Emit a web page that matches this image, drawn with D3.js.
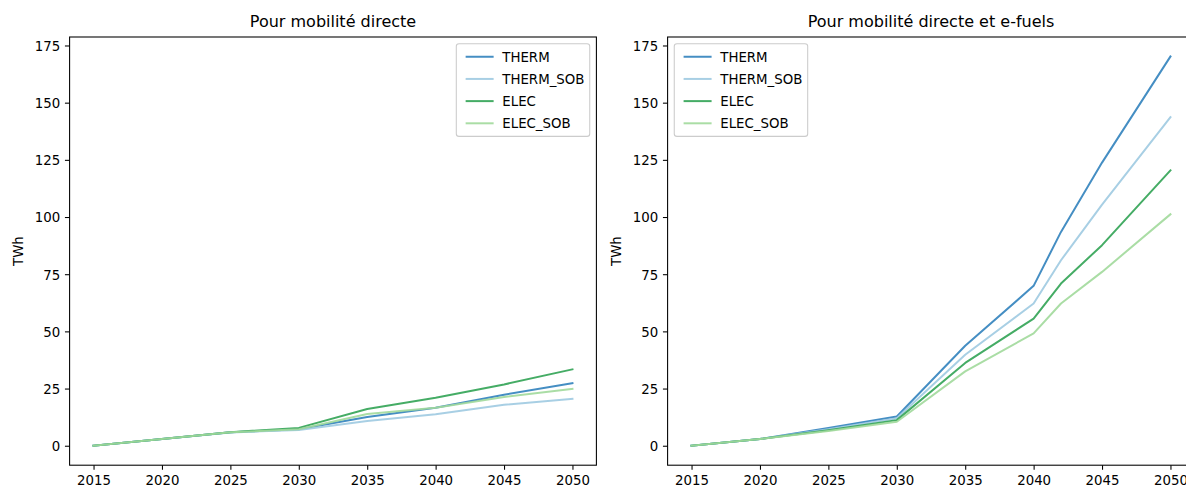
<!DOCTYPE html>
<html>
<head>
<meta charset="utf-8">
<script src="https://cdn.jsdelivr.net/npm/d3@7"></script>
<style>
  html, body { margin: 0; padding: 0; background: #fff; }
  svg { display: block; font-family: "DejaVu Sans", sans-serif; }
</style>
</head>
<body>
<svg id="chart" width="1186" height="487"></svg>
<script>
// ---------- data ----------
const seriesNames = ["THERM", "THERM_SOB", "ELEC", "ELEC_SOB"];
const seriesColors = ["#3182bd", "#9ecae1", "#31a354", "#a1d99b"];

const titleLeft = "Pour mobilité directe";
const titleRight = "Pour mobilité directe et e-fuels";
const yLabel = "TWh";

const xTicks = [2015, 2020, 2025, 2030, 2035, 2040, 2045, 2050];
const yTicks = [0, 25, 50, 75, 100, 125, 150, 175];

// Left panel: direct mobility
const yearsLeft = [2015, 2020, 2025, 2030, 2035, 2040, 2045, 2050];
const leftTHERM     = [0, 2.9, 5.9, 7.2, 12.6, 16.6, 22.3, 27.4];
const leftTHERM_SOB = [0, 2.9, 5.8, 6.9, 10.8, 13.8, 17.9, 20.5];
const leftELEC      = [0, 2.9, 5.9, 7.8, 16.1, 21.0, 26.8, 33.4];
const leftELEC_SOB  = [0, 2.9, 5.9, 7.2, 13.9, 16.6, 21.3, 24.9];

// Right panel: direct mobility + e-fuels
const yearsRight = [2015, 2020, 2025, 2030, 2035, 2040, 2042, 2045, 2050];
const rightTHERM     = [0, 2.9, 7.8, 12.8, 43.7, 69.9, 93.5, 123.8, 170.2];
const rightTHERM_SOB = [0, 2.9, 7.2, 12.0, 39.8, 62.2, 81.1, 105.4, 143.7];
const rightELEC      = [0, 2.9, 6.8, 11.2, 36.2, 55.6, 70.9, 87.7, 120.4];
const rightELEC_SOB  = [0, 2.9, 6.4, 10.5, 32.5, 49.1, 62.2, 76.0, 101.2];

// ---------- layout ----------
const FS = 13.33;        // 10pt at 96 dpi
const TITLE_FS = 16;
const LW = 2;
const SPINE = 1.07;
const TICKLEN = 4.67, TICKPAD = 4.67;

const svg = d3.select("#chart");

// shared y domain with matplotlib 5% margins
const allVals = [].concat(leftTHERM, leftTHERM_SOB, leftELEC, leftELEC_SOB,
                          rightTHERM, rightTHERM_SOB, rightELEC, rightELEC_SOB);
const yMin = d3.min(allVals), yMax = d3.max(allVals);
const yPad = (yMax - yMin) * 0.05;

const panels = [
  { x0: 69.6, x1: 596.4, title: titleLeft, years: yearsLeft,
    series: [leftTHERM, leftTHERM_SOB, leftELEC, leftELEC_SOB], legend: "right" },
  { x0: 667.6, x1: 1194.4, title: titleRight, years: yearsRight,
    series: [rightTHERM, rightTHERM_SOB, rightELEC, rightELEC_SOB], legend: "left" }
];
const plotTop = 37, plotBottom = 465.2;

panels.forEach(p => {
  const g = svg.append("g");
  const xMin = d3.min(p.years), xMax = d3.max(p.years);
  const xPad = (xMax - xMin) * 0.05;
  const x = d3.scaleLinear().domain([xMin - xPad, xMax + xPad]).range([p.x0, p.x1]);
  const y = d3.scaleLinear().domain([yMin - yPad, yMax + yPad]).range([plotBottom, plotTop]);

  // lines
  const clipId = "clip" + Math.round(p.x0);
  svg.append("clipPath").attr("id", clipId).append("rect")
    .attr("x", p.x0).attr("y", plotTop).attr("width", p.x1 - p.x0).attr("height", plotBottom - plotTop);
  const line = d3.line().x(d => x(d[0])).y(d => y(d[1]));
  p.series.forEach((vals, i) => {
    g.append("path")
      .datum(p.years.map((yr, k) => [yr, vals[k]]))
      .attr("d", line)
      .attr("fill", "none")
      .attr("stroke", seriesColors[i])
      .attr("stroke-opacity", 0.9)
      .attr("stroke-width", LW)
      .attr("stroke-linejoin", "round")
      .attr("stroke-linecap", "square")
      .attr("clip-path", `url(#${clipId})`);
  });

  // axes
  const xAxis = d3.axisBottom(x).tickValues(xTicks).tickFormat(d3.format("d"))
    .tickSizeInner(TICKLEN).tickSizeOuter(0).tickPadding(TICKPAD);
  const yAxis = d3.axisLeft(y).tickValues(yTicks).tickFormat(d3.format("d"))
    .tickSizeInner(TICKLEN).tickSizeOuter(0).tickPadding(TICKPAD);

  const gx = g.append("g").attr("transform", `translate(0,${plotBottom})`).call(xAxis);
  const gy = g.append("g").attr("transform", `translate(${p.x0},0)`).call(yAxis);
  [gx, gy].forEach(a => {
    a.select(".domain").remove();
    a.selectAll(".tick line").attr("stroke", "#000").attr("stroke-width", SPINE);
    a.selectAll(".tick text").attr("fill", "#000").style("font-size", FS + "px")
      .style("font-family", "DejaVu Sans");
  });
  gx.selectAll(".tick text").attr("dy", "0.76em");
  gy.selectAll(".tick text").attr("dy", "0.36em");

  // spines
  g.append("rect")
    .attr("x", p.x0).attr("y", plotTop)
    .attr("width", p.x1 - p.x0).attr("height", plotBottom - plotTop)
    .attr("fill", "none").attr("stroke", "#000").attr("stroke-width", SPINE);

  // title
  g.append("text")
    .attr("x", (p.x0 + p.x1) / 2).attr("y", plotTop - 10)
    .attr("text-anchor", "middle")
    .style("font-size", TITLE_FS + "px")
    .attr("fill", "#000")
    .text(p.title);

  // y label
  g.append("text")
    .attr("transform", `translate(${p.x0 - 46.3},${(plotTop + plotBottom) / 2}) rotate(-90)`)
    .attr("text-anchor", "middle")
    .style("font-size", FS + "px")
    .attr("fill", "#000")
    .text(yLabel);

  // legend
  const lg = g.append("g");
  const rowH = 1.164 * FS, gap = 0.5 * FS, bpad = 0.4 * FS;
  const hStart = 0.7 * FS, hLen = 2.1 * FS, tStart = 3.45 * FS;
  const texts = [];
  seriesNames.forEach((name, i) => {
    const t = lg.append("text").style("font-size", FS + "px").attr("fill", "#000").text(name);
    texts.push(t);
  });
  const maxW = d3.max(texts, t => t.node().getComputedTextLength());
  const boxW = tStart + maxW + bpad;
  const boxH = bpad * 2 + seriesNames.length * rowH + (seriesNames.length - 1) * gap;
  const bx = p.legend === "right" ? p.x1 - 0.5 * FS - boxW : p.x0 + 0.5 * FS;
  const by = plotTop + 0.5 * FS;
  lg.insert("rect", ":first-child")
    .attr("x", bx).attr("y", by).attr("width", boxW).attr("height", boxH)
    .attr("rx", 2.7).attr("ry", 2.7)
    .attr("fill", "#fff").attr("fill-opacity", 0.8)
    .attr("stroke", "#cccccc").attr("stroke-width", SPINE);
  seriesNames.forEach((name, i) => {
    const cy = by + bpad + i * (rowH + gap) + rowH / 2;
    lg.append("line")
      .attr("x1", bx + hStart).attr("x2", bx + hStart + hLen)
      .attr("y1", cy).attr("y2", cy)
      .attr("stroke", seriesColors[i]).attr("stroke-opacity", 0.9).attr("stroke-width", LW);
    texts[i].attr("x", bx + tStart).attr("y", cy).attr("dy", "0.36em");
  });
});
</script>
</body>
</html>
